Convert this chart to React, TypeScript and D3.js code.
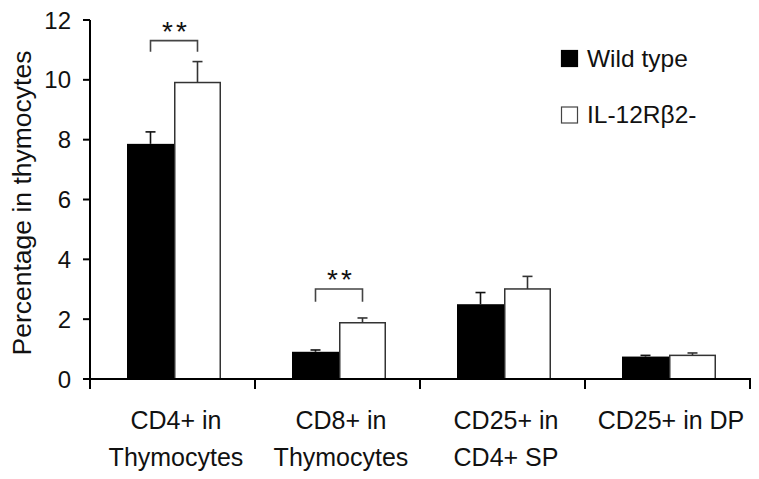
import React from "react";
import * as d3 from "d3";

const categories: string[][] = [
  ["CD4+ in", "Thymocytes"],
  ["CD8+ in", "Thymocytes"],
  ["CD25+ in", "CD4+ SP"],
  ["CD25+ in DP"],
];
const seriesNames = ["Wild type", "IL-12R\u03b22-"];
const wildType = [7.86, 0.91, 2.5, 0.75];
const wildTypeErr = [0.4, 0.06, 0.39, 0.04];
const knockout = [9.91, 1.88, 3.01, 0.79];
const knockoutErr = [0.7, 0.16, 0.42, 0.08];
const yTicks = [0, 2, 4, 6, 8, 10, 12];
const significance = [
  { group: 0, top: 11.31, bottom: 10.94, label: "**" },
  { group: 1, top: 3.01, bottom: 2.58, label: "**" },
];

const W = 759;
const H = 479;
const FONT = "'Liberation Sans', Arial, Helvetica, sans-serif";

export default function App() {
  const y = d3.scaleLinear().domain([0, 12]).range([379, 20]);
  const x = d3
    .scaleBand<number>()
    .domain(categories.map((_, i) => i))
    .range([90, 750]);
  const barW = 47;
  const inner = d3
    .scaleBand<number>()
    .domain([0, 1])
    .range([-barW, barW]);
  const series = [
    { values: wildType, errs: wildTypeErr, fill: "#000", stroke: "#000", err: "#111" },
    { values: knockout, errs: knockoutErr, fill: "#fff", stroke: "#333", err: "#333" },
  ];
  const center = (i: number) => (x(i) as number) + x.bandwidth() / 2 + 1.5;
  const barCenter = (i: number, s: number) => center(i) + (inner(s) as number) + barW / 2;
  const boundaries = d3.range(categories.length + 1).map((i) =>
    i < categories.length ? (x(i) as number) : (x(i - 1) as number) + x.bandwidth()
  );

  return (
    <svg
      width={W}
      height={H}
      style={{ position: "absolute", left: 0, top: 0, background: "#fff" }}
      fontFamily={FONT}
    >
      <rect x={0} y={0} width={W} height={H} fill="#fff" />
      {/* bars */}
      {series.map((s, si) =>
        s.values.map((v, i) => (
          <rect
            key={`b${si}-${i}`}
            x={center(i) + (inner(si) as number) + (si === 1 ? 0.75 : 0)}
            y={y(v)}
            width={barW - (si === 1 ? 1.5 : 0)}
            height={y(0) - y(v)}
            fill={s.fill}
            stroke={si === 1 ? s.stroke : "none"}
            strokeWidth={1.5}
          />
        ))
      )}
      {/* error bars */}
      {series.map((s, si) =>
        s.values.map((v, i) => {
          const cx = barCenter(i, si);
          const top = y(v + s.errs[i]);
          return (
            <g key={`e${si}-${i}`} stroke={s.err} strokeWidth={1.6}>
              <line x1={cx} x2={cx} y1={y(v)} y2={top} />
              <line x1={cx - 5} x2={cx + 5} y1={top} y2={top} />
            </g>
          );
        })
      )}
      {/* significance brackets */}
      {significance.map((sg, k) => {
        const x1 = barCenter(sg.group, 0);
        const x2 = barCenter(sg.group, 1);
        const yt = y(sg.top);
        const yb = y(sg.bottom);
        return (
          <g key={`s${k}`}>
            <path
              d={`M${x1},${yb}V${yt}H${x2}V${yb}`}
              fill="none"
              stroke="#444"
              strokeWidth={1.6}
            />
            <text
              x={(x1 + x2) / 2 + 2}
              y={yt + 0.5}
              fontSize={28}
              textAnchor="middle"
              letterSpacing={3}
              fill="#111"
            >
              {sg.label}
            </text>
          </g>
        );
      })}
      {/* y axis */}
      <line x1={90} x2={90} y1={y(12)} y2={388} stroke="#000" strokeWidth={2} />
      {yTicks.map((t) => (
        <g key={`yt${t}`}>
          <line x1={83} x2={90} y1={y(t)} y2={y(t)} stroke="#000" strokeWidth={2} />
          <text
            x={71}
            y={y(t)}
            dy="0.36em"
            fontSize={24}
            textAnchor="end"
            fill="#111"
          >
            {t}
          </text>
        </g>
      ))}
      {/* x axis */}
      <line x1={89} x2={751} y1={y(0)} y2={y(0)} stroke="#000" strokeWidth={2} />
      {boundaries.map((b, i) => (
        <line key={`xt${i}`} x1={b} x2={b} y1={y(0)} y2={389} stroke="#000" strokeWidth={2} />
      ))}
      {categories.map((lines, i) => (
        <text key={`c${i}`} textAnchor="middle" fontSize={25} fill="#111">
          {lines.map((l, li) => (
            <tspan key={li} x={center(i) + 2} y={429 + li * 37}>
              {l}
            </tspan>
          ))}
        </text>
      ))}
      {/* y title */}
      <text
        transform={`translate(31,203) rotate(-90)`}
        textAnchor="middle"
        fontSize={26.5}
        fill="#111"
      >
        Percentage in thymocytes
      </text>
      {/* legend */}
      {seriesNames.map((name, i) => (
        <g key={`l${i}`} transform={`translate(0,${i * 56.5})`}>
          <rect
            x={561.5}
            y={50.5}
            width={16}
            height={16}
            fill={i === 0 ? "#000" : "#fff"}
            stroke={i === 0 ? "#000" : "#444"}
            strokeWidth={1.2}
          />
          <text x={587} y={66.5} fontSize={24.5} fill="#111">
            {name}
          </text>
        </g>
      ))}
    </svg>
  );
}
